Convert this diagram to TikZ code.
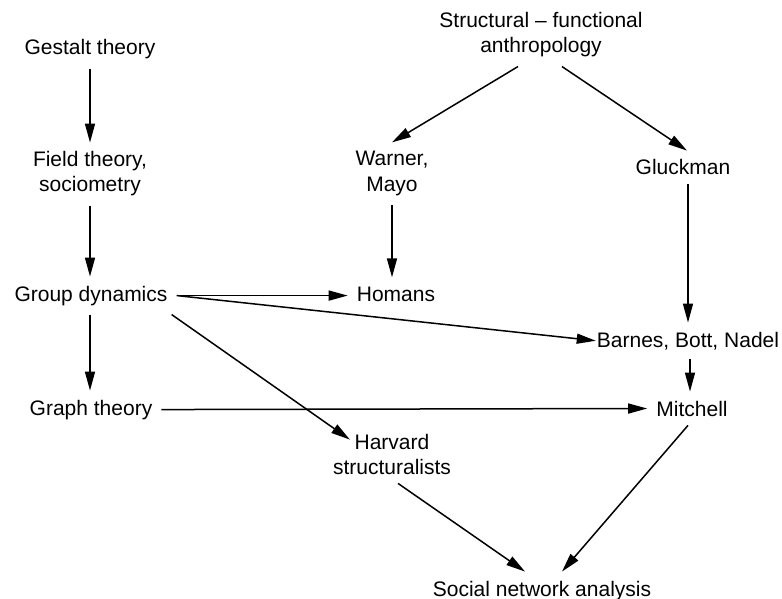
\documentclass[tikz,border=0pt]{standalone}
\usepackage{fontspec}
\setmainfont{Liberation Sans}
\usetikzlibrary{arrows.meta}
\begin{document}
\begin{tikzpicture}[x=1pt,y=-1pt,
        txt/.style={anchor=base,inner sep=9pt,align=center,
            font=\fontsize{21}{25}\selectfont},
        arr/.style={line width=1.5pt,-{Triangle[length=19pt,width=10pt]}}]
                \useasboundingbox
                    (0,0) rectangle (782,599);
                \node[txt] (gestalt) at (90,55) {Gestalt theory};
                \node[txt] (field) at (90,192) {Field theory,\\sociometry};
                \node[txt] (group) at (91,301) {Group dynamics};
                \node[txt] (graph) at (91,415) {Graph theory};
                \node[txt] (struct) at (541,53) {Structural – functional\\anthropology};
                \node[txt] (warner) at (392,191) {Warner,\\Mayo};
                \node[txt] (gluck) at (683,175) {Gluckman};
                \node[txt] (homans) at (396,301) {Homans};
                \node[txt] (barnes) at (688,347) {Barnes, Bott, Nadel};
                \node[txt] (mitchell) at (692,416) {Mitchell};
                \node[txt] (harvard) at (392,474) {Harvard\\structuralists};
                \node[txt] (sna) at (542,596) {Social network analysis};
                \draw[arr]
                    (gestalt.south) -- (field.north);
                \draw[arr]
                    (field.south) -- (field.south |- group.north);
                \draw[arr]
                    (group.south -| field.south) -- (field.south |- graph.north);
                \draw[arr]
                    ([xshift=-23pt]struct.south) -- (warner.north);
                \draw[arr]
                    ([xshift=21pt]struct.south) -- ([xshift=4pt]gluck.north);
                \draw[arr]
                    (warner.south) -- (warner.south |- homans.north);
                \draw[arr]
                    (gluck.south -| barnes.north) -- (barnes.north);
                \draw[arr]
                    ([xshift=2pt]barnes.south) -- ([xshift=2pt]barnes.south |- mitchell.north);
                \draw[arr]
                    (group.east) -- (group.east -| homans.west);
                \draw[arr]
                    (group.east) -- ([xshift=8pt]barnes.west);
                \draw[arr]
                    ([xshift=-5pt]group.south east) -- ([shift={(26pt,-15pt)}]harvard.north west);
                \draw[arr]
                    (graph.east) -- (mitchell.west);
                \draw[arr]
                    ([xshift=6pt]harvard.south) -- ([xshift=-17pt]sna.north);
                \draw[arr]
                    ([xshift=-4pt]mitchell.south) -- ([xshift=20pt]sna.north);
            \end{tikzpicture}
\end{document}
